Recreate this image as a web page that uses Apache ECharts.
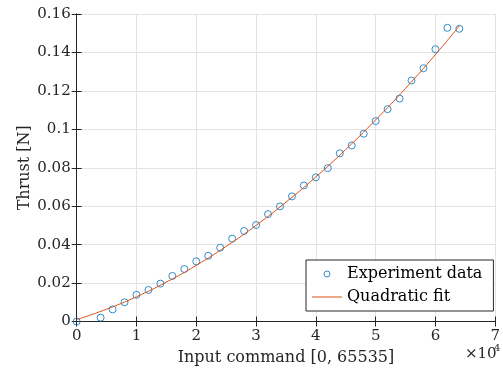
<!DOCTYPE html>
<html>
<head>
<meta charset="utf-8">
<style>html,body{margin:0;padding:0;background:#fff;}#c{width:503px;height:376px;}</style>
<script src="https://cdn.jsdelivr.net/npm/echarts@6/dist/echarts.min.js"></script>
</head>
<body>
<div id="c"></div>
<script>
const inputCommand = [0, 4000, 6000, 8000, 10000, 12000, 14000, 16000, 18000, 20000, 22000, 24000, 26000, 28000, 30000, 32000, 34000, 36000, 38000, 40000, 42000, 44000, 46000, 48000, 50000, 52000, 54000, 56000, 58000, 60000, 62000, 64000];
const thrust = [0, 0.0020, 0.0063, 0.0100, 0.0139, 0.0164, 0.0197, 0.0237, 0.0273, 0.0313, 0.0342, 0.0384, 0.0431, 0.0471, 0.0502, 0.0559, 0.0599, 0.0651, 0.0708, 0.0750, 0.0798, 0.0875, 0.0916, 0.0977, 0.1043, 0.1105, 0.1160, 0.1254, 0.1318, 0.1417, 0.1528, 0.1523];
const fitX = [0, 5000, 10000, 15000, 20000, 25000, 30000, 35000, 40000, 45000, 50000, 55000, 60000, 64000];
const fitY = [0.0010, 0.0064, 0.0129, 0.0205, 0.0292, 0.0391, 0.0500, 0.0621, 0.0752, 0.0895, 0.1049, 0.1213, 0.1389, 0.1538];
const xTickLabels = ['0', '1', '2', '3', '4', '5', '6', '7'];
const yTickLabels = ['0', '0.02', '0.04', '0.06', '0.08', '0.1', '0.12', '0.14', '0.16'];

const FONT = 'DejaVu Serif';
const AX = '#262626';
const chart = echarts.init(document.getElementById('c'), null, {renderer: 'canvas'});
const axisCommonX = {
  type: 'value', min: 0, max: 70000, interval: 10000,
  axisLine: {show: true, lineStyle: {color: AX, width: 1}},
  axisTick: {show: true, inside: true, length: 5, lineStyle: {color: AX, width: 1}},
};
const axisCommonY = {
  type: 'value', min: 0, max: 0.16, interval: 0.02,
  axisLine: {show: true, lineStyle: {color: AX, width: 1}},
  axisTick: {show: true, inside: true, length: 5, lineStyle: {color: AX, width: 1}},
};
chart.setOption({
  animation: false,
  backgroundColor: '#fff',
  grid: {left: 76.7, top: 14, width: 425.3, height: 307.5, containLabel: false},
  xAxis: [
    Object.assign({}, axisCommonX, {
      position: 'bottom',
      name: 'Input command [0, 65535]', nameLocation: 'middle', nameGap: 28,
      nameMoveOverlap: false,
      nameTextStyle: {fontFamily: FONT, fontSize: 16, color: AX},
      axisLabel: {margin: 7, fontFamily: FONT, fontSize: 15, color: AX,
        formatter: (v) => xTickLabels[Math.round(v / 10000)]},
      splitLine: {show: true, lineStyle: {color: '#e3e3e3', width: 1}}
    }),
    Object.assign({}, axisCommonX, {
      position: 'top', axisLabel: {show: false}, splitLine: {show: false}
    })
  ],
  yAxis: [
    Object.assign({}, axisCommonY, {
      position: 'left',
      name: 'Thrust [N]', nameLocation: 'middle', nameGap: 44,
      nameMoveOverlap: false,
      nameTextStyle: {fontFamily: FONT, fontSize: 16, color: AX},
      axisLabel: {margin: 6, fontFamily: FONT, fontSize: 15, color: AX,
        formatter: (v) => yTickLabels[Math.round(v / 0.02)]},
      splitLine: {show: true, lineStyle: {color: '#e3e3e3', width: 1}}
    }),
    Object.assign({}, axisCommonY, {
      position: 'right', axisLabel: {show: false}, splitLine: {show: false}
    })
  ],
  legend: {
    left: 306, top: 260, orient: 'vertical',
    backgroundColor: '#fff', borderColor: AX, borderWidth: 1,
    padding: [6, 11, 6, 6], itemGap: 7, itemWidth: 30, itemHeight: 6,
    textStyle: {fontFamily: FONT, fontSize: 16, color: '#000', lineHeight: 16},
    data: [
      {name: 'Experiment data', icon: 'circle',
       itemStyle: {color: 'rgba(255,255,255,0)', borderColor: '#0072BD', borderWidth: 1}},
      {name: 'Quadratic fit', icon: 'path://M0,0 L30,0 L30,1 L0,1 Z'}
    ]
  },
  series: [
    {
      name: 'Experiment data', type: 'scatter',
      symbol: 'circle', symbolSize: 7,
      itemStyle: {color: 'rgba(255,255,255,0)', borderColor: '#0072BD', borderWidth: 1},
      data: inputCommand.map((x, i) => [x, thrust[i]])
    },
    {
      name: 'Quadratic fit', type: 'line', smooth: true, symbol: 'none', showSymbol: false,
      lineStyle: {color: '#D95319', width: 1},
      itemStyle: {color: '#D95319'},
      data: fitX.map((x, i) => [x, fitY[i]])
    }
  ],
  graphic: [
    {type: 'text', left: 465, top: 347, style: {text: '×10', fontFamily: FONT, fontSize: 15, fill: AX}},
    {type: 'text', left: 494, top: 343, style: {text: '4', fontFamily: FONT, fontSize: 10, fill: AX}}
  ]
});
</script>
</body>
</html>
